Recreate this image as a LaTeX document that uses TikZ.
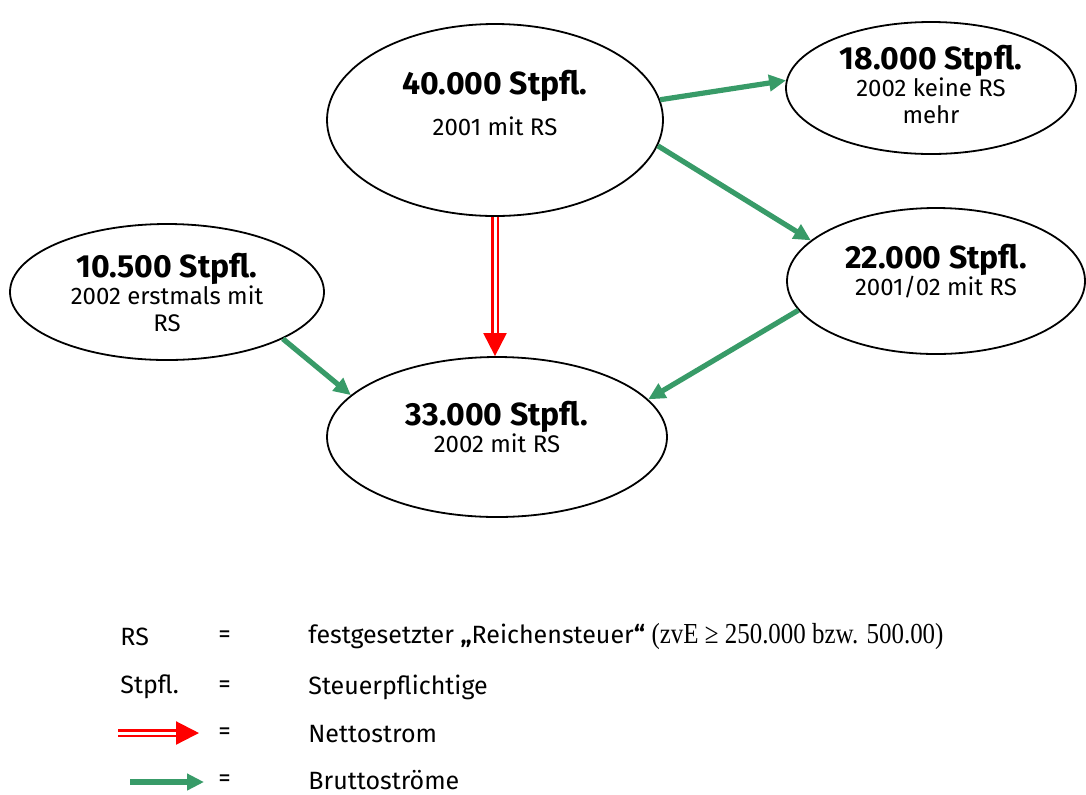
\documentclass[tikz,border=0pt]{standalone}
\usepackage{fontspec}
\setmainfont{Fira Sans}
\newfontfamily\legserif[FakeStretch=0.86]{Liberation Serif}
\usetikzlibrary{shapes.geometric,arrows.meta}
\definecolor{bruttogreen}{RGB}{56,155,104}
\newcommand\headfont{\fontsize{16}{19}\selectfont\bfseries}

\begin{document}
\begin{tikzpicture}[x=0.5pt,y=-0.5pt,
        blob/.style={ellipse, draw, line width=0.9pt, inner sep=0pt},
        txt/.style={align=center, font=\fontsize{12}{13.5}\selectfont, inner sep=0pt},
        brutto/.style={draw=bruttogreen, line width=2.6pt,
            -{Triangle[length=8.5pt,width=8pt]}},
        netto/.style={draw=red, double=white, line width=1.1pt, double distance=1.5pt,
            -{Triangle[length=11.5pt,width=11.5pt,fill=red]}},
        leg/.style={anchor=west, font=\fontsize{12.5}{15}\selectfont, inner sep=0pt}]
    \useasboundingbox (0,0) rectangle (1086,794);

    % ellipses
    \node[blob, minimum width=168pt, minimum height=96pt] (a) at (495,120) {};
    \node[blob, minimum width=145pt, minimum height=66pt] (b) at (931,88) {};
    \node[blob, minimum width=149pt, minimum height=73pt] (c) at (936,281) {};
    \node[blob, minimum width=157pt, minimum height=68pt] (d) at (167,292) {};
    \node[blob, minimum width=170pt, minimum height=80pt] (e) at (497,437) {};

    \node[txt] (a-txt) at (495,103) {{\headfont 40.000 Stpfl.}\\[7pt] 2001 mit RS};
    \node[txt] (b-txt) at (931,84) {{\headfont 18.000 Stpfl.}\\[0pt] 2002 keine RS\\ mehr};
    \node[txt] (c-txt) at (936,271) {{\headfont 22.000 Stpfl.}\\[0pt] 2001/02 mit RS};
    \node[txt] (d-txt) at (167,292) {{\headfont 10.500 Stpfl.}\\[0pt] 2002 erstmals mit\\ RS};
    \node[txt] (e-txt) at (497,427) {{\headfont 33.000 Stpfl.}\\[0pt] 2002 mit RS};

    % flows
    \draw[brutto] (a.7) -- (b.177);
    \draw[brutto] (a.-9) -- (c.162);
    \draw[brutto] (c.192) -- (e.14);
    \draw[brutto] (d.-22) -- (e.164);
    \draw[netto] (a.south) -- (a.south |- e.north);

    % legend
    \node[leg] (rs) at (120,637) {RS};
    \node[leg] (rs-eq) at (218,637) {=};
    \node[leg] (rs-def) at (308,637) {festgesetzter \textbf{„}Reichensteuer\textbf{“} {\legserif\fontsize{14.5}{16}\selectfont(zvE ≥ 250.000 bzw. 500.00)}};
    \node[leg] (st) at (120,687) {Stpfl.};
    \node[leg] (st-eq) at (218,687) {=};
    \node[leg] (st-def) at (308,687) {Steuerpflichtige};
    \coordinate (n1) at (118,733);
    \coordinate (n2) at (199,733);
    \draw[netto] (n1) -- (n2);
    \node[leg] (n-eq) at (218,734) {=};
    \node[leg] (n-def) at (308,734) {Nettostrom};
    \coordinate (g1) at (130,782);
    \coordinate (g2) at (204,782);
    \draw[brutto] (g1) -- (g2);
    \node[leg] (g-eq) at (218,781) {=};
    \node[leg] (g-def) at (308,780) {Bruttoströme};
\end{tikzpicture}
\end{document}
